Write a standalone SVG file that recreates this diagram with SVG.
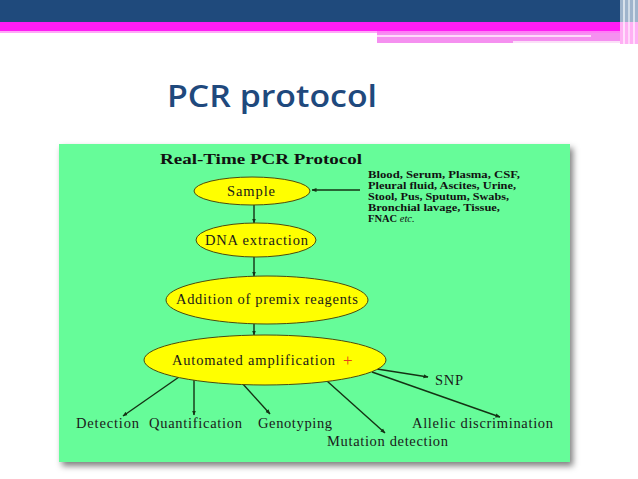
<svg xmlns="http://www.w3.org/2000/svg" width="638" height="479" viewBox="0 0 638 479">
<defs>
<style>
.node ellipse{fill:#FFFF00;stroke:#4a4a10;stroke-width:1}
.lbl{font-family:"Liberation Serif","Times New Roman",serif;font-size:14.5px;fill:#1a1a1a}
.src{font-family:"Liberation Serif","Times New Roman",serif;font-size:10.5px;font-weight:bold;fill:#111}
.conn line{stroke:#143214;stroke-width:1.4;marker-end:url(#ah)}
</style>
<marker id="ah" viewBox="0 0 10 10" refX="9" refY="5" markerWidth="5" markerHeight="5" orient="auto" markerUnits="userSpaceOnUse">
<path d="M0,1 L10,5 L0,9 z" fill="#143214"/>
</marker>
<filter id="sh" x="-5%" y="-5%" width="115%" height="115%">
<feDropShadow dx="3" dy="4" stdDeviation="3" flood-color="#000" flood-opacity="0.5"/>
</filter>
</defs>
<rect width="638" height="479" fill="#FFFFFF"/>
<g id="header">
<rect x="0" y="0" width="638" height="22" fill="#1F4A7C"/>
<rect x="0" y="22" width="620" height="9" fill="#FF1CF4"/>
<rect x="0" y="31" width="377" height="2" fill="#FFA8F8"/>
<rect x="377" y="31" width="243" height="2" fill="#FF7CF6"/>
<rect x="377" y="33" width="243" height="10" fill="#F590F0"/>
<rect x="377" y="35" width="214" height="2" fill="#FFD8FB"/>
<rect x="513" y="41" width="107" height="2" fill="#FBE0F8"/>
<rect x="620" y="0" width="18" height="44" fill="#9FB4CC"/>
<rect x="620" y="22" width="18" height="22" fill="#FFB0F4"/>
<rect x="623" y="0" width="2" height="44" fill="#FFFFFF" opacity="0.6"/>
<rect x="628" y="0" width="2" height="44" fill="#FFFFFF" opacity="0.5"/>
<rect x="633" y="0" width="2" height="44" fill="#FFFFFF" opacity="0.6"/>
</g>
<text x="167" y="107" font-family="'Open Sans','Noto Sans',sans-serif" font-size="30" font-weight="600" fill="#1F497D" textLength="210" lengthAdjust="spacingAndGlyphs">PCR protocol</text>
<rect x="59" y="144" width="511" height="318" fill="#66FC99" filter="url(#sh)"/>
<text x="160" y="164" font-family="'Liberation Serif','Times New Roman',serif" font-size="15" font-weight="bold" fill="#111" textLength="202" lengthAdjust="spacingAndGlyphs">Real-Time PCR Protocol</text>
<g id="sources">
<text class="src" x="368" y="178" textLength="152" lengthAdjust="spacingAndGlyphs">Blood, Serum, Plasma, CSF,</text>
<text class="src" x="368" y="189" textLength="148" lengthAdjust="spacingAndGlyphs">Pleural fluid, Ascites, Urine,</text>
<text class="src" x="368" y="200" textLength="141" lengthAdjust="spacingAndGlyphs">Stool, Pus, Sputum, Swabs,</text>
<text class="src" x="368" y="211" textLength="132" lengthAdjust="spacingAndGlyphs">Bronchial lavage, Tissue,</text>
<text class="src" x="368" y="222">FNAC <tspan font-style="italic" font-weight="normal">etc.</tspan></text>
</g>
<g class="conn" id="connectors">
<line x1="360" y1="190" x2="312" y2="190"/>
<line x1="254" y1="205" x2="254" y2="223"/>
<line x1="254" y1="257" x2="254" y2="276"/>
<line x1="254" y1="324" x2="254" y2="335"/>
<line x1="179" y1="377" x2="123" y2="416"/>
<line x1="194" y1="380" x2="194" y2="415"/>
<line x1="242" y1="383" x2="270" y2="414"/>
<line x1="327" y1="381" x2="385" y2="433"/>
<line x1="372" y1="372" x2="500" y2="417"/>
<line x1="377" y1="369" x2="428" y2="377"/>
</g>
<g class="node" id="sample">
<ellipse cx="252" cy="191" rx="58" ry="14"/>
<text class="lbl" x="227" y="196" textLength="48" lengthAdjust="spacing">Sample</text>
</g>
<g class="node" id="dna">
<ellipse cx="256" cy="240" rx="60" ry="17"/>
<text class="lbl" x="205" y="245" font-size="15" textLength="103" lengthAdjust="spacing">DNA extraction</text>
</g>
<g class="node" id="premix">
<ellipse cx="267" cy="300" rx="101" ry="24"/>
<text class="lbl" x="176" y="304" textLength="182" lengthAdjust="spacing">Addition of premix reagents</text>
</g>
<g class="node" id="amp">
<ellipse cx="265" cy="360" rx="121" ry="25"/>
<text class="lbl" x="172" y="365" textLength="163" lengthAdjust="spacing">Automated amplification</text>
<text x="343" y="366" font-family="'Liberation Serif',serif" font-size="17" fill="#E8401A">+</text>
</g>
<g id="detection"><text class="lbl" x="76" y="428" textLength="63" lengthAdjust="spacing">Detection</text></g>
<g id="quant"><text class="lbl" x="149" y="428" textLength="93" lengthAdjust="spacing">Quantification</text></g>
<g id="geno"><text class="lbl" x="258" y="428" textLength="74" lengthAdjust="spacing">Genotyping</text></g>
<g id="mutation"><text class="lbl" x="327" y="446" textLength="121" lengthAdjust="spacing">Mutation detection</text></g>
<g id="allelic"><text class="lbl" x="412" y="428" textLength="141" lengthAdjust="spacing">Allelic discrimination</text></g>
<g id="snp"><text class="lbl" x="435" y="385" textLength="28" lengthAdjust="spacing">SNP</text></g>
</svg>
